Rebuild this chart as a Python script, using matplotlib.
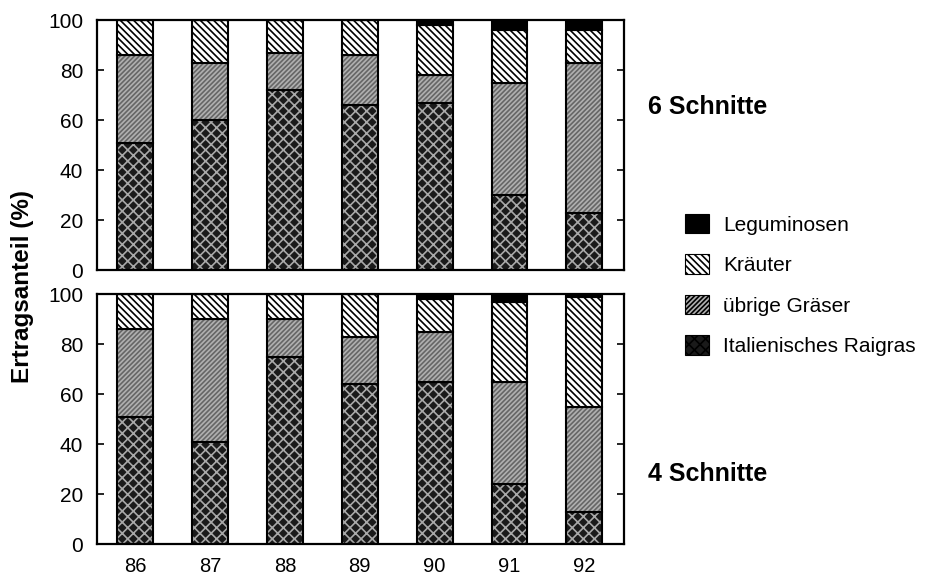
import matplotlib
matplotlib.use("Agg")
import matplotlib.pyplot as plt
from matplotlib.patches import Patch
import numpy as np

plt.rcParams['font.family'] = ['Liberation Sans', 'DejaVu Sans']
plt.rcParams['hatch.linewidth'] = 1.2

years = [86, 87, 88, 89, 90, 91, 92]
categories = ["Italienisches Raigras", "übrige Gräser", "Kräuter", "Leguminosen"]

# 6 Schnitte (top panel), shares in %
top_raigras = [51, 60, 72, 66, 67, 30, 23]
top_graeser = [35, 23, 15, 20, 11, 45, 60]
top_kraeuter = [14, 17, 13, 14, 20, 21, 13]
top_legum = [0, 0, 0, 0, 2, 4, 4]

# 4 Schnitte (bottom panel)
bot_raigras = [51, 41, 75, 64, 65, 24, 13]
bot_graeser = [35, 49, 15, 19, 20, 41, 42]
bot_kraeuter = [14, 10, 10, 17, 13, 32, 44]
bot_legum = [0, 0, 0, 0, 2, 3, 1]

styles = [
    dict(facecolor='#1a1a1a', hatch='xxx', hatchcolor='#a8a8a8'),
    dict(facecolor='#b0b0b0', hatch='///////', hatchcolor='#666666'),
    dict(facecolor='white', hatch='\\\\\\\\\\', hatchcolor='black'),
    dict(facecolor='black', hatch=None, hatchcolor='black'),
]

fig = plt.figure(figsize=(9.4, 5.78), dpi=100)
W, H = 940, 578
ax_top = fig.add_axes([97 / W, 1 - 270 / H, 527 / W, 250 / H])
ax_bot = fig.add_axes([97 / W, 1 - 544 / H, 527 / W, 250 / H])

width = 0.48

def draw(ax, series):
    bottom = np.zeros(len(years))
    for vals, st in zip(series, styles):
        vals = np.array(vals, dtype=float)
        ax.bar(years, vals, width, bottom=bottom, color=st['facecolor'],
               hatch=st['hatch'], edgecolor=st['hatchcolor'], linewidth=0)
        ax.bar(years, vals, width, bottom=bottom, fill=False,
               edgecolor='black', linewidth=1.5)
        bottom += vals
    ax.set_xlim(85.49, 92.53)
    ax.set_ylim(0, 100)
    ax.set_yticks([0, 20, 40, 60, 80, 100])
    ax.tick_params(axis='y', direction='in', left=True, right=True,
                   length=5, width=1.2, labelsize=15, pad=10)
    ax.tick_params(axis='x', length=0, labelsize=14.5, pad=9)
    for s in ax.spines.values():
        s.set_linewidth(1.6)

draw(ax_top, [top_raigras, top_graeser, top_kraeuter, top_legum])
draw(ax_bot, [bot_raigras, bot_graeser, bot_kraeuter, bot_legum])
ax_top.set_xticks(years)
ax_top.set_xticklabels([])
ax_bot.set_xticks(years)
ax_bot.set_xticklabels([str(y) for y in years])

fig.text(23 / W, 1 - 287 / H, "Ertragsanteil (%)", rotation=90,
         ha='center', va='center', fontsize=17.5, fontweight='bold')
fig.text(648 / W, 1 - 107 / H, "6 Schnitte", ha='left', va='center',
         fontsize=18, fontweight='bold')
fig.text(648 / W, 1 - 474 / H, "4 Schnitte", ha='left', va='center',
         fontsize=18, fontweight='bold')

handles = []
labels = []
for cat, st in reversed(list(zip(categories, styles))):
    handles.append(Patch(facecolor=st['facecolor'], hatch=st['hatch'],
                         edgecolor='black', linewidth=0.8))
    labels.append(cat)
fig.legend(handles, labels, loc='center left',
           bbox_to_anchor=(666 / W, 1 - 285 / H), frameon=False,
           fontsize=15, handlelength=1.15, handleheight=1.05,
           labelspacing=0.95, handletextpad=0.7)

fig.savefig("out.png", dpi=100)
